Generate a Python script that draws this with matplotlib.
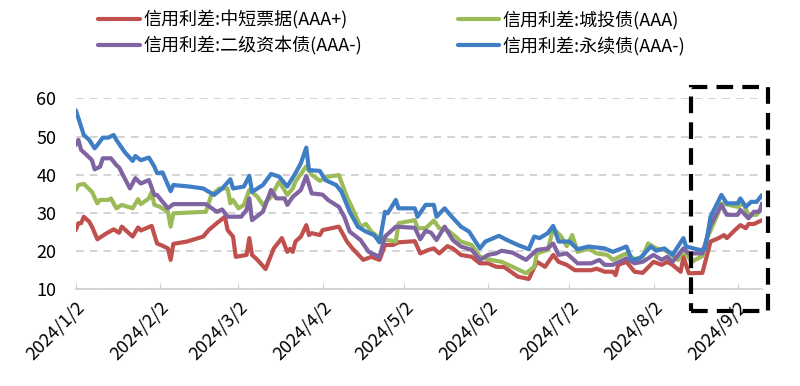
import matplotlib
matplotlib.use('Agg')
import matplotlib.pyplot as plt
import matplotlib.dates as mdates
from matplotlib.patches import Rectangle
import pandas as pd

plt.rcParams['font.family'] = ['Noto Sans CJK SC', 'DejaVu Sans']

# 信用利差 (bp)，日期为 2024 年 月-日
red_dates = ['01-02', '01-03', '01-04', '01-05', '01-07', '01-08', '01-10', '01-13', '01-16', '01-18',
             '01-19', '01-23', '01-25', '01-26', '01-30', '02-01', '02-03', '02-05', '02-06', '02-07',
             '02-12', '02-18', '02-20', '02-23', '02-26', '02-27', '02-29', '03-01', '03-05', '03-06',
             '03-07', '03-09', '03-12', '03-15', '03-18', '03-20', '03-21', '03-22', '03-23', '03-25',
             '03-27', '03-28', '03-29', '04-01', '04-02', '04-04', '04-08', '04-11', '04-13', '04-17',
             '04-20', '04-23', '04-25', '04-28', '04-30', '05-06', '05-08', '05-11', '05-13', '05-15',
             '05-18', '05-20', '05-23', '05-27', '05-30', '06-02', '06-05', '06-08', '06-13', '06-17',
             '06-20', '06-23', '06-26', '06-28', '07-01', '07-04', '07-10', '07-12', '07-15', '07-18',
             '07-19', '07-20', '07-23', '07-26', '07-29', '08-02', '08-05', '08-07', '08-09', '08-12',
             '08-13', '08-15', '08-20', '08-23', '08-26', '08-28', '08-29', '09-01', '09-03', '09-05',
             '09-06', '09-08', '09-11']
red_vals = [25.5, 27.3, 27.3, 29.0, 27.7, 26.4, 23.1, 24.5, 25.7, 24.8,
            26.4, 23.8, 26.2, 25.4, 26.6, 22.0, 21.4, 20.7, 17.7, 21.9,
            22.5, 23.8, 25.5, 27.3, 29.0, 25.5, 23.8, 18.5, 19.0, 23.4,
            19.0, 17.7, 15.3, 20.7, 23.4, 19.8, 20.6, 19.8, 22.5, 23.8,
            26.8, 24.2, 24.7, 24.2, 25.5, 25.8, 26.4, 22.5, 20.7, 17.7,
            18.5, 17.7, 21.6, 21.6, 22.3, 22.6, 19.4, 20.3, 20.7, 19.4,
            21.3, 20.7, 19.0, 18.5, 16.8, 16.8, 15.9, 15.8, 13.3, 12.7,
            17.2, 15.9, 19.0, 17.2, 16.4, 15.0, 15.0, 15.4, 14.6, 14.6,
            13.7, 16.4, 17.2, 14.6, 14.3, 17.2, 16.4, 17.2, 16.4, 14.6,
            18.5, 14.2, 14.3, 22.5, 23.4, 24.2, 23.4, 25.5, 26.8, 26.0,
            27.1, 27.1, 28.1]

green_dates = ['01-02', '01-03', '01-05', '01-08', '01-10', '01-11', '01-14', '01-15', '01-17', '01-19',
               '01-23', '01-25', '01-26', '01-29', '01-30', '01-31', '02-02', '02-05', '02-06', '02-07',
               '02-19', '02-21', '02-24', '02-27', '02-28', '02-29', '03-02', '03-04', '03-06', '03-09',
               '03-11', '03-14', '03-17', '03-20', '03-22', '03-23', '03-27', '03-29', '04-01', '04-04',
               '04-08', '04-11', '04-13', '04-16', '04-18', '04-20', '04-23', '04-26', '04-29', '04-30',
               '05-06', '05-07', '05-10', '05-13', '05-15', '05-18', '05-21', '05-23', '05-27', '05-30',
               '06-03', '06-07', '06-11', '06-16', '06-19', '06-20', '06-24', '06-26', '06-29', '07-01',
               '07-03', '07-05', '07-09', '07-12', '07-16', '07-18', '07-23', '07-26', '07-29', '07-31',
               '08-03', '08-06', '08-08', '08-11', '08-13', '08-16', '08-20', '08-22', '08-26', '08-27',
               '09-02', '09-04', '09-06', '09-09', '09-11']
green_vals = [36.0, 37.3, 37.6, 35.5, 32.5, 33.4, 33.4, 33.8, 31.2, 32.1,
              31.2, 33.6, 32.3, 33.8, 35.5, 32.1, 31.6, 30.3, 26.4, 29.9,
              30.3, 34.7, 36.4, 36.4, 32.5, 33.4, 31.2, 32.1, 36.0, 34.2,
              32.1, 34.2, 38.2, 34.7, 36.4, 38.2, 42.2, 40.0, 38.4, 39.5,
              39.9, 34.2, 31.2, 26.4, 27.1, 25.1, 23.4, 22.9, 22.5, 27.3,
              28.1, 26.0, 26.0, 28.0, 26.0, 25.5, 23.8, 22.5, 21.6, 18.5,
              17.7, 17.2, 15.9, 14.2, 15.9, 19.4, 20.3, 26.0, 23.8, 21.3,
              24.2, 19.8, 20.7, 19.4, 19.0, 17.7, 19.4, 17.9, 18.5, 22.0,
              20.7, 20.3, 19.4, 17.7, 20.3, 17.2, 18.7, 23.8, 30.3, 32.5,
              31.6, 32.5, 29.5, 29.5, 31.6]

purple_dates = ['01-02', '01-03', '01-04', '01-06', '01-08', '01-09', '01-11', '01-12', '01-15', '01-17',
                '01-18', '01-22', '01-24', '01-26', '01-29', '01-31', '02-01', '02-05', '02-07', '02-19',
                '02-23', '02-25', '02-27', '03-03', '03-05', '03-06', '03-07', '03-11', '03-14', '03-16',
                '03-19', '03-20', '03-22', '03-25', '03-27', '03-29', '04-02', '04-04', '04-08', '04-10',
                '04-12', '04-16', '04-19', '04-23', '04-25', '04-29', '05-06', '05-08', '05-10', '05-12',
                '05-14', '05-17', '05-20', '05-23', '05-27', '05-30', '06-02', '06-05', '06-07', '06-11',
                '06-16', '06-20', '06-24', '06-26', '06-28', '07-01', '07-05', '07-10', '07-13', '07-15',
                '07-18', '07-23', '07-26', '07-29', '08-02', '08-05', '08-07', '08-09', '08-13', '08-15',
                '08-20', '08-23', '08-27', '08-29', '09-02', '09-03', '09-06', '09-08', '09-10', '09-11']
purple_vals = [47.8, 49.1, 46.5, 45.2, 43.8, 41.4, 42.1, 44.3, 44.3, 42.5,
               41.9, 36.4, 39.1, 37.7, 38.6, 34.7, 34.7, 31.2, 32.3, 32.3,
               30.3, 30.9, 29.0, 29.0, 30.8, 33.8, 28.1, 30.3, 36.0, 33.8,
               33.8, 32.1, 34.2, 36.0, 39.7, 35.1, 34.8, 33.4, 31.6, 29.0,
               25.1, 22.9, 19.8, 18.5, 23.8, 26.4, 26.1, 23.1, 25.3, 24.8,
               22.9, 26.4, 22.9, 21.2, 20.3, 17.7, 19.0, 19.4, 20.1, 19.6,
               17.7, 20.3, 20.7, 22.0, 19.0, 19.4, 16.8, 16.8, 17.7, 16.4,
               16.4, 18.1, 16.8, 17.2, 19.0, 17.7, 18.5, 17.2, 20.7, 19.4,
               19.4, 26.8, 32.1, 29.5, 29.5, 30.8, 28.6, 30.3, 30.3, 32.5]

blue_dates = ['01-02', '01-03', '01-05', '01-07', '01-09', '01-10', '01-12', '01-14', '01-16', '01-17',
              '01-20', '01-23', '01-24', '01-26', '01-29', '01-31', '02-01', '02-03', '02-06', '02-07',
              '02-13', '02-18', '02-22', '02-25', '02-28', '02-29', '03-04', '03-06', '03-07', '03-11',
              '03-14', '03-17', '03-20', '03-23', '03-25', '03-27', '03-28', '04-01', '04-03', '04-07',
              '04-09', '04-12', '04-15', '04-18', '04-21', '04-23', '04-25', '04-26', '04-29', '04-30',
              '05-06', '05-07', '05-10', '05-13', '05-14', '05-17', '05-19', '05-23', '05-26', '05-30',
              '06-01', '06-06', '06-09', '06-13', '06-17', '06-19', '06-21', '06-24', '06-26', '06-28',
              '07-02', '07-05', '07-09', '07-15', '07-18', '07-23', '07-25', '07-28', '08-01', '08-03',
              '08-06', '08-09', '08-13', '08-14', '08-19', '08-21', '08-23', '08-27', '08-29', '09-02',
              '09-03', '09-05', '09-07', '09-09', '09-11']
blue_vals = [56.9, 54.8, 50.4, 49.1, 46.9, 47.8, 49.7, 49.7, 50.4, 49.1,
             46.0, 43.6, 44.9, 43.8, 44.5, 42.1, 40.4, 40.6, 35.7, 37.3,
             36.9, 36.4, 34.7, 36.4, 38.8, 36.4, 36.9, 39.7, 35.5, 37.3,
             40.2, 39.5, 36.9, 40.4, 43.0, 47.1, 41.2, 41.0, 38.6, 37.3,
             35.5, 30.3, 26.4, 25.1, 24.2, 22.3, 30.3, 29.9, 33.4, 31.2,
             31.2, 29.0, 32.1, 32.1, 29.0, 31.2, 29.5, 26.4, 25.1, 20.7,
             22.5, 24.0, 22.9, 21.6, 20.5, 23.8, 23.4, 24.7, 26.6, 22.5,
             22.5, 20.5, 21.2, 20.7, 19.8, 21.2, 17.7, 18.1, 21.2, 20.1,
             20.7, 19.0, 23.4, 21.2, 20.3, 20.5, 29.0, 34.7, 32.5, 32.5,
             33.8, 31.6, 32.9, 32.9, 34.7]

series_names = ['信用利差:中短票据(AAA+)', '信用利差:城投债(AAA)',
                '信用利差:二级资本债(AAA-)', '信用利差:永续债(AAA-)']
series_colors = ['#C0504D', '#9BBB59', '#8064A2', '#3F7DC4']

tick_dates = ['01-02', '02-02', '03-02', '04-02', '05-02', '06-02', '07-02', '08-02', '09-02']
tick_labels = ['2024/1/2', '2024/2/2', '2024/3/2', '2024/4/2', '2024/5/2',
               '2024/6/2', '2024/7/2', '2024/8/2', '2024/9/2']


def to_dt(days):
    return pd.to_datetime(['2024-' + d for d in days])


fig = plt.figure(figsize=(8, 3.86), dpi=100)
ax = fig.add_axes([0.0946, 0.2505, 0.858, 0.4948])

all_data = [(red_dates, red_vals), (green_dates, green_vals),
            (purple_dates, purple_vals), (blue_dates, blue_vals)]
lines = []
for (d, v), name, c in zip(all_data, series_names, series_colors):
    ln, = ax.plot(to_dt(d), v, color=c, lw=3.0, label=name,
                  solid_joinstyle='round', solid_capstyle='round')
    lines.append(ln)

ax.set_ylim(10, 60)
ax.set_yticks(range(10, 61, 10))
ax.set_xlim(pd.Timestamp('2024-01-02'), pd.Timestamp('2024-09-11'))
ax.set_xticks(mdates.date2num(to_dt(tick_dates)))
ax.set_xticklabels(tick_labels, rotation=45, ha='right', rotation_mode='anchor')

ax.grid(axis='y', color='#C8C8C8', linestyle=(0, (5, 4)), lw=1.1)
ax.set_axisbelow(True)
for s in ['top', 'right', 'left']:
    ax.spines[s].set_visible(False)
ax.spines['bottom'].set_color('#D0D0D0')
ax.spines['bottom'].set_linewidth(1.2)
ax.tick_params(axis='y', length=0, pad=14, labelsize=13)
ax.tick_params(axis='x', direction='in', length=4, color='#D0D0D0', pad=6, labelsize=13)

# 图例：第一行 红/绿，第二行 紫/蓝
order = [0, 2, 1, 3]
fig.legend([lines[i] for i in order], [series_names[i] for i in order],
           ncol=2, loc='upper left', bbox_to_anchor=(0.107, 1.005), frameon=False,
           fontsize=13, handlelength=2.3, handletextpad=0.2, columnspacing=5.3,
           labelspacing=0.35, borderaxespad=0.3)

# 虚线框
fig.patches.append(Rectangle((690.7 / 800, 1 - 311 / 386), 77 / 800, 224 / 386,
                             transform=fig.transFigure, fill=False, edgecolor='black',
                             lw=3, linestyle=(0, (4, 2.2))))

fig.savefig('out.png', dpi=100)
